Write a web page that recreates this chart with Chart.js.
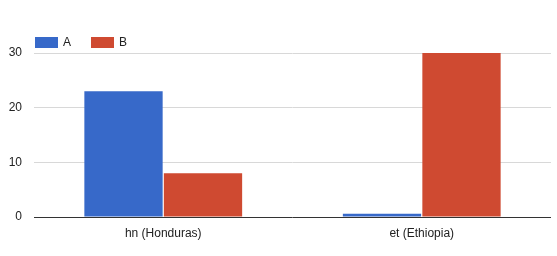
<!DOCTYPE html>
<html>
<head>
<meta charset="utf-8">
<script src="https://cdn.jsdelivr.net/npm/chart.js@4"></script>
<style>
  html, body { margin: 0; padding: 0; background: #fff; }
  #wrap { width: 557px; height: 256px; }
</style>
</head>
<body>
<div id="wrap"><canvas id="chart" width="557" height="256"></canvas></div>
<script>
const categories = ["hn (Honduras)", "et (Ethiopia)"];
const seriesNames = ["A", "B"];
const seriesA = [23, 0.6];
const seriesB = [8, 30];
const yTicks = [0, 10, 20, 30];

const colors = ["#3769c9", "#cf4a31"];
const font = { family: "'Liberation Sans', Arial, sans-serif", size: 12 };

// legend drawn by hand, google-charts style
const topLegend = {
    id: "topLegend",
    afterDraw(chart) {
        const ctx = chart.ctx;
        let x = chart.chartArea.left + 1;
        const y = 37;
        ctx.save();
        ctx.font = font.size + "px " + font.family;
        ctx.textBaseline = "middle";
        chart.data.datasets.forEach(function (ds) {
            ctx.fillStyle = ds.backgroundColor;
            ctx.fillRect(x, y, 23, 11);
            ctx.fillStyle = "#222";
            ctx.fillText(ds.label, x + 28, y + 6);
            x += 56;
        });
        ctx.restore();
    }
};

new Chart(document.getElementById("chart"), {
    type: "bar",
    data: {
        labels: categories,
        datasets: [
            { label: seriesNames[0], data: seriesA, backgroundColor: colors[0] },
            { label: seriesNames[1], data: seriesB, backgroundColor: colors[1] }
        ]
    },
    options: {
        responsive: false,
        animation: false,
        layout: { padding: { top: 53, right: 6, bottom: 0, left: 0 } },
        datasets: { bar: { categoryPercentage: 0.615, barPercentage: 0.985 } },
        plugins: { legend: { display: false }, tooltip: { enabled: false } },
        scales: {
            x: {
                grid: { display: false, drawTicks: false },
                border: { display: false },
                ticks: { font: font, color: "#222", padding: 9 },
                afterFit(scale) { scale.height = 39; }
            },
            y: {
                min: 0,
                max: 30,
                afterBuildTicks(scale) { scale.ticks = yTicks.map(v => ({ value: v })); },
                grid: {
                    drawTicks: false,
                    color: ctx => ctx.tick && ctx.tick.value === 0 ? "#333" : "#d8d8d8"
                },
                border: { display: false },
                ticks: { font: font, color: "#222", padding: 12 },
                afterFit(scale) { scale.width = 34; }
            }
        }
    },
    plugins: [topLegend]
});
</script>
</body>
</html>
